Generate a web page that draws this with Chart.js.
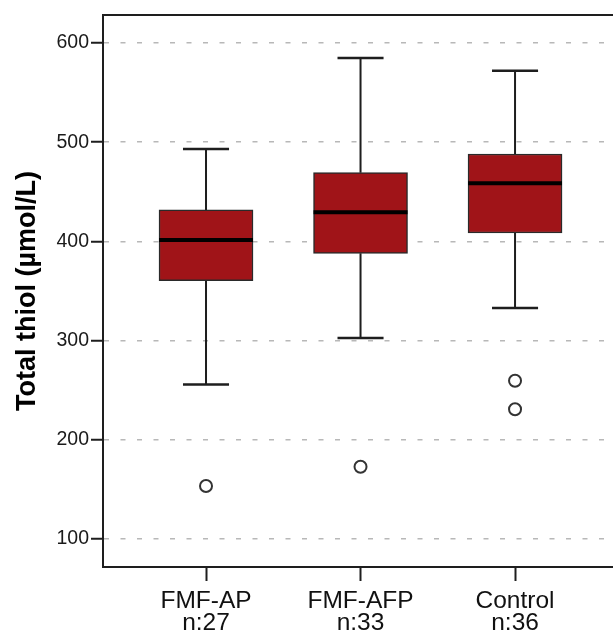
<!DOCTYPE html>
<html>
<head>
<meta charset="utf-8">
<script src="https://cdn.jsdelivr.net/npm/chart.js@4"></script>
<style>
  html, body { margin: 0; padding: 0; background: #fff; overflow: hidden; }
  #wrap { width: 613px; height: 632px; }
</style>
</head>
<body>
<div id="wrap"><canvas id="c" width="613" height="632"></canvas></div>
<script>
// ---- data ----
const categories = ['FMF-AP', 'FMF-AFP', 'Control'];
const counts = ['n:27', 'n:33', 'n:36'];
const q1 = [360.4, 388.0, 408.5];
const median = [401.4, 429.3, 458.6];
const q3 = [431.7, 469.3, 488.1];
const whiskerLow = [255.7, 302.6, 332.9];
const whiskerHigh = [493.1, 584.9, 572.1];
const outliers = [[153.4], [172.9], [259.6, 230.8]];
const yTicks = [100, 200, 300, 400, 500, 600];

// ---- style constants ----
const FONT = "'Liberation Sans', Arial, sans-serif";
const BOX_FILL = '#a01418';
const INK = '#1e1e1e';
const CAP_HALF = 0.149;     // half cap width, in category units
const MED_HALF = 0.304;     // half median width, in category units

// build datasets from the arrays
const boxData = categories.map((c, i) => ({ x: i, y: [q1[i], q3[i]] }));
const whiskerData = [];
const capData = [];
const medianData = [];
categories.forEach((c, i) => {
  whiskerData.push({ x: i, y: q3[i] }, { x: i, y: whiskerHigh[i] }, { x: i, y: null });
  whiskerData.push({ x: i, y: q1[i] }, { x: i, y: whiskerLow[i] }, { x: i, y: null });
  capData.push({ x: i - CAP_HALF, y: whiskerHigh[i] }, { x: i + CAP_HALF, y: whiskerHigh[i] }, { x: i, y: null });
  capData.push({ x: i - CAP_HALF, y: whiskerLow[i] }, { x: i + CAP_HALF, y: whiskerLow[i] }, { x: i, y: null });
  medianData.push({ x: i - MED_HALF, y: median[i] }, { x: i + MED_HALF, y: median[i] }, { x: i, y: null });
});
const outlierData = [];
outliers.forEach((arr, i) => arr.forEach(v => outlierData.push({ x: i, y: v })));

const frameTop = {
  id: 'frameTop',
  afterDraw(chart) {
    const { ctx, chartArea } = chart;
    ctx.save();
    ctx.strokeStyle = INK;
    ctx.lineWidth = 2;
    ctx.beginPath();
    ctx.moveTo(chartArea.left - 1, chartArea.top);
    ctx.lineTo(chartArea.right, chartArea.top);
    ctx.stroke();
    ctx.restore();
  }
};

new Chart(document.getElementById('c'), {
  type: 'bar',
  data: {
    datasets: [
      {
        type: 'scatter', data: outlierData, order: 0,
        pointStyle: 'circle', pointRadius: 6, pointBorderWidth: 2,
        pointBackgroundColor: '#ffffff', pointBorderColor: '#333333'
      },
      {
        type: 'line', data: medianData, order: 1,
        borderColor: '#000000', borderWidth: 4, pointRadius: 0,
        spanGaps: false, fill: false, borderCapStyle: 'butt'
      },
      {
        type: 'bar', data: boxData, order: 2,
        backgroundColor: BOX_FILL, borderColor: '#2a2a2a', borderWidth: 1.5,
        borderSkipped: false, barThickness: 94
      },
      {
        type: 'line', data: whiskerData, order: 3,
        borderColor: INK, borderWidth: 2, pointRadius: 0,
        spanGaps: false, fill: false, borderCapStyle: 'butt'
      },
      {
        type: 'line', data: capData, order: 3,
        borderColor: INK, borderWidth: 2.5, pointRadius: 0,
        spanGaps: false, fill: false, borderCapStyle: 'butt'
      }
    ]
  },
  options: {
    responsive: false,
    devicePixelRatio: 1,
    animation: false,
    layout: { autoPadding: false, padding: { top: 15, right: 0, bottom: 0, left: 0 } },
    plugins: { legend: { display: false }, tooltip: { enabled: false } },
    scales: {
      x: {
        type: 'linear',
        min: -0.6667,
        max: 2.634,
        offset: false,
        afterBuildTicks: (s) => { s.ticks = categories.map((c, i) => ({ value: i })); },
        afterFit: (s) => { s.height = 65; },
        grid: {
          offset: false, drawOnChartArea: false, drawTicks: true,
          tickLength: 14, tickColor: INK, tickWidth: 2, color: INK
        },
        border: { display: true, color: INK, width: 2 },
        ticks: {
          autoSkip: false, maxRotation: 0, minRotation: 0,
          padding: 9, color: '#111',
          font: { family: FONT, size: 24.5, lineHeight: 0.91 },
          callback: (v) => [categories[v], counts[v]]
        }
      },
      y: {
        type: 'linear',
        min: 71.8,
        max: 628.2,
        beginAtZero: false,
        afterBuildTicks: (s) => { s.ticks = yTicks.map(v => ({ value: v })); },
        afterFit: (s) => { s.width = 103; },
        grid: {
          drawOnChartArea: true, drawTicks: true,
          color: '#b8b8b8', lineWidth: 1.5,
          tickLength: 12, tickColor: INK, tickWidth: 2
        },
        border: { display: true, color: INK, width: 2, dash: [5, 11.5] },
        ticks: {
          padding: 2, color: '#1a1a1a',
          font: { family: FONT, size: 19.5 }
        },
        title: {
          display: true,
          text: 'Total thiol (µmol/L)',
          color: '#000',
          font: { family: FONT, size: 27, weight: 'bold', lineHeight: 1.2 },
          padding: { top: 11, bottom: 0 }
        }
      }
    }
  },
  plugins: [frameTop]
});
</script>
</body>
</html>
